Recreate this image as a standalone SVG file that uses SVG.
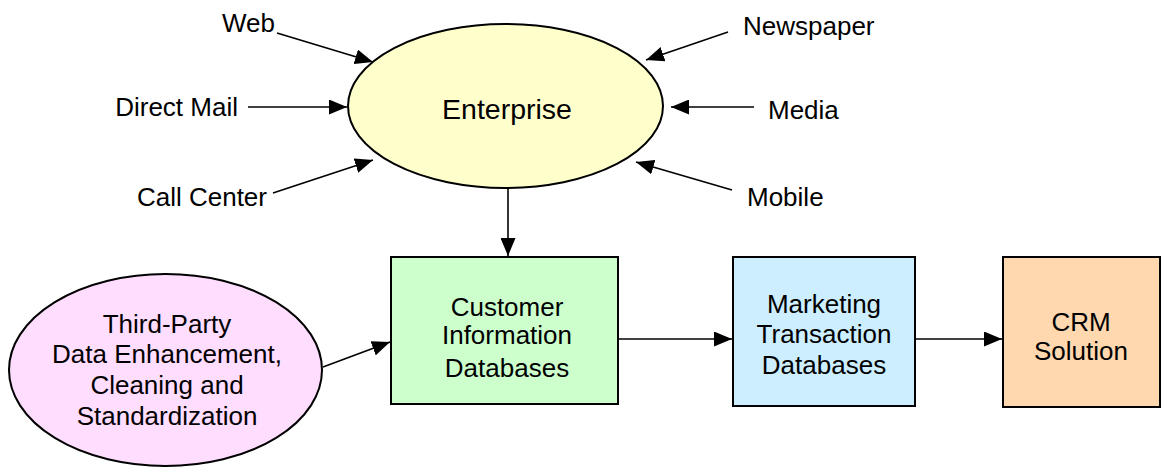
<svg xmlns="http://www.w3.org/2000/svg" width="1164" height="468" viewBox="0 0 1164 468">
  <style>
    .lbl { font-family: "Liberation Sans", Arial, sans-serif; font-size: 26px; fill: #000; }
    .ctr { text-anchor: middle; }
    .node { stroke: #000; stroke-width: 2; }
    .edge { stroke: #000; stroke-width: 1.6; fill: none; marker-end: url(#head); }
  </style>
  <defs>
    <marker id="head" viewBox="0 0 18 15" refX="18" refY="7.5" markerWidth="18" markerHeight="15" markerUnits="userSpaceOnUse" orient="auto">
      <path d="M0,0 L18,7.5 L0,15 Z" fill="#000"/>
    </marker>
  </defs>
  <rect width="1164" height="468" fill="#fff"/>

  <!-- source channel labels -->
  <g id="channels">
    <text class="lbl" x="275" y="32" text-anchor="end">Web</text>
    <text class="lbl" x="238" y="116" text-anchor="end">Direct Mail</text>
    <text class="lbl" x="267" y="206" text-anchor="end">Call Center</text>
    <text class="lbl" x="743" y="35">Newspaper</text>
    <text class="lbl" x="768" y="119">Media</text>
    <text class="lbl" x="747" y="206">Mobile</text>
  </g>

  <g id="enterprise">
    <ellipse class="node" cx="505.5" cy="106" rx="157.5" ry="82" fill="#ffffcc"/>
    <text class="lbl ctr" x="507" y="119" style="font-size:28.5px">Enterprise</text>
  </g>

  <g id="third-party">
    <ellipse class="node" cx="165.5" cy="370" rx="156.5" ry="96" fill="#ffddff"/>
    <text class="lbl ctr" x="167" y="333">Third-Party</text>
    <text class="lbl ctr" x="167" y="363">Data Enhancement,</text>
    <text class="lbl ctr" x="167" y="394">Cleaning and</text>
    <text class="lbl ctr" x="167" y="425">Standardization</text>
  </g>

  <g id="customer-db">
    <rect class="node" x="391" y="257" width="227" height="147" fill="#ccffcc"/>
    <text class="lbl ctr" x="507" y="316">Customer</text>
    <text class="lbl ctr" x="507" y="344">Information</text>
    <text class="lbl ctr" x="507" y="377">Databases</text>
  </g>

  <g id="marketing-db">
    <rect class="node" x="733" y="257" width="182" height="149" fill="#cceeff"/>
    <text class="lbl ctr" x="824" y="313">Marketing</text>
    <text class="lbl ctr" x="824" y="343">Transaction</text>
    <text class="lbl ctr" x="824" y="374">Databases</text>
  </g>

  <g id="crm">
    <rect class="node" x="1003" y="257" width="157" height="150" fill="#ffd8b0"/>
    <text class="lbl ctr" x="1081" y="331">CRM</text>
    <text class="lbl ctr" x="1081" y="360">Solution</text>
  </g>

  <g id="connectors">
    <line class="edge" x1="277" y1="33" x2="373" y2="62"/>
    <line class="edge" x1="248" y1="107" x2="347" y2="107"/>
    <line class="edge" x1="273" y1="193" x2="373" y2="160"/>
    <line class="edge" x1="728" y1="32" x2="646" y2="60"/>
    <line class="edge" x1="754" y1="107" x2="671" y2="107"/>
    <line class="edge" x1="732" y1="190" x2="636" y2="162"/>
    <line class="edge" x1="508" y1="188" x2="508" y2="256"/>
    <line class="edge" x1="323" y1="367" x2="390" y2="342"/>
    <line class="edge" x1="618" y1="339" x2="732" y2="339"/>
    <line class="edge" x1="915" y1="339" x2="1002" y2="339"/>
  </g>
</svg>
